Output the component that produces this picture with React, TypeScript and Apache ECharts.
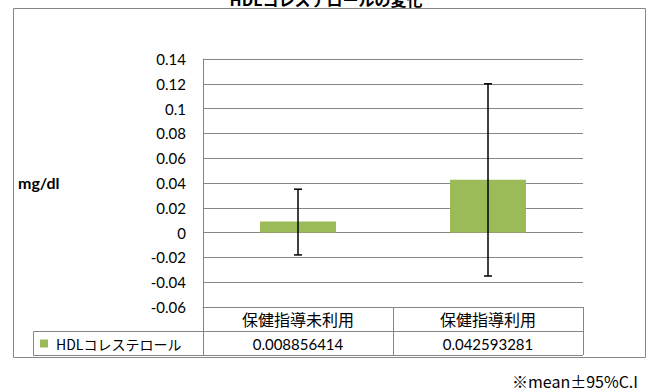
import React, { useEffect, useRef } from 'react';
import * as echarts from 'echarts';

const titleText = 'HDLコレステロールの変化';
const seriesName = 'HDLコレステロール';
const categories = ['保健指導未利用', '保健指導利用'];
const means = [0.008856414, 0.042593281];
const ciLow = [-0.018, -0.035];
const ciHigh = [0.035, 0.12];
const yMin = -0.06;
const yMax = 0.14;
const yStep = 0.02;
const unitLabel = 'mg/dl';
const noteText = '※mean±95%C.I';

const GRAY = '#868686';

export default function App() {
  const ref = useRef<HTMLDivElement>(null);
  useEffect(() => {
    const chart = echarts.init(ref.current!, null, { renderer: 'svg' });
    const renderItem = (params: any, api: any) => {
      const x = api.value(0);
      const lo = api.coord([x, api.value(1)]);
      const hi = api.coord([x, api.value(2)]);
      const style = { stroke: '#000', lineWidth: 1.5 };
      return {
        type: 'group',
        children: [
          { type: 'line', shape: { x1: lo[0], y1: lo[1], x2: hi[0], y2: hi[1] }, style },
          { type: 'line', shape: { x1: hi[0] - 4, y1: hi[1], x2: hi[0] + 4, y2: hi[1] }, style },
          { type: 'line', shape: { x1: lo[0] - 4, y1: lo[1], x2: lo[0] + 4, y2: lo[1] }, style },
        ],
      };
    };
    chart.setOption({
      animation: false,
      backgroundColor: '#fff',
      textStyle: { fontFamily: 'Lato, "Noto Sans CJK JP", sans-serif' },
      grid: { left: 203, right: 68, top: 59, bottom: 85 },
      legend: {
        show: true,
        data: [seriesName],
        left: 40,
        top: 336.5,
        padding: 0,
        itemWidth: 8,
        itemHeight: 8,
        icon: 'rect',
        textStyle: {
          fontSize: 14,
          fontFamily: '"Noto Sans CJK JP"',
          color: '#000',
          padding: [0, 0, 0, 3],
          lineHeight: 14,
        },
      },
      xAxis: [
        {
          type: 'category',
          data: categories,
          position: 'bottom',
          axisLine: { show: true, onZero: false, lineStyle: { color: GRAY } },
          axisTick: { show: true, length: 48, lineStyle: { color: GRAY } },
          axisLabel: {
            margin: 4,
            fontSize: 16,
            lineHeight: 16,
            fontFamily: '"Noto Sans CJK JP"',
            color: '#000',
          },
        },
        {
          type: 'category',
          data: means.map((v) => String(v)),
          position: 'bottom',
          offset: 24,
          axisLine: { show: false, onZero: false },
          axisTick: { show: false },
          axisLabel: { margin: 5, fontSize: 15, lineHeight: 15, fontFamily: 'Lato', color: '#000' },
        },
      ],
      yAxis: {
        type: 'value',
        min: yMin,
        max: yMax,
        interval: yStep,
        axisLine: { show: true, lineStyle: { color: GRAY } },
        axisTick: { show: false },
        splitLine: { lineStyle: { color: GRAY } },
        axisLabel: {
          margin: 17,
          fontSize: 15,
          fontFamily: 'Lato',
          color: '#000',
          formatter: (v: number) => String(parseFloat(v.toFixed(2))),
        },
      },
      series: [
        {
          type: 'bar',
          name: seriesName,
          data: means,
          barWidth: 76,
          xAxisIndex: 0,
          itemStyle: { color: '#9BBB59' },
        },
        {
          type: 'custom',
          name: 'ci',
          xAxisIndex: 0,
          data: categories.map((_, i) => [i, ciLow[i], ciHigh[i]]),
          encode: { x: 0, y: [1, 2] },
          renderItem,
          z: 10,
        },
      ],
      graphic: [
        {
          type: 'rect',
          silent: true,
          z: -1,
          shape: { x: 13.5, y: 8.5, width: 632, height: 349 },
          style: { fill: 'none', stroke: GRAY, lineWidth: 1 },
        },
        {
          type: 'text',
          x: 326,
          y: -1,
          style: {
            text: titleText,
            fontSize: 16,
            fontWeight: 'bold',
            fontFamily: '"Noto Sans CJK JP"',
            fill: '#000',
            align: 'center',
            verticalAlign: 'middle',
          },
        },
        {
          type: 'text',
          x: 18,
          y: 182,
          style: {
            text: unitLabel,
            fontSize: 16,
            fontWeight: 'bold',
            fontFamily: 'Lato',
            fill: '#000',
            align: 'left',
            verticalAlign: 'middle',
          },
        },
        { type: 'line', silent: true, shape: { x1: 33.5, y1: 331.5, x2: 583, y2: 331.5 }, style: { stroke: GRAY, lineWidth: 1 } },
        { type: 'line', silent: true, shape: { x1: 33.5, y1: 355.5, x2: 583, y2: 355.5 }, style: { stroke: GRAY, lineWidth: 1 } },
        { type: 'line', silent: true, shape: { x1: 33.5, y1: 331.5, x2: 33.5, y2: 355.5 }, style: { stroke: GRAY, lineWidth: 1 } },
        {
          type: 'text',
          x: 638,
          y: 381,
          style: {
            text: noteText,
            fontSize: 16,
            fontFamily: '"Noto Sans CJK JP"',
            fill: '#000',
            align: 'right',
            verticalAlign: 'middle',
          },
        },
      ],
    });
    return () => chart.dispose();
  }, []);
  return (
    <div
      ref={ref}
      style={{ position: 'fixed', left: 0, top: 0, width: 651, height: 392, background: '#fff' }}
    />
  );
}
